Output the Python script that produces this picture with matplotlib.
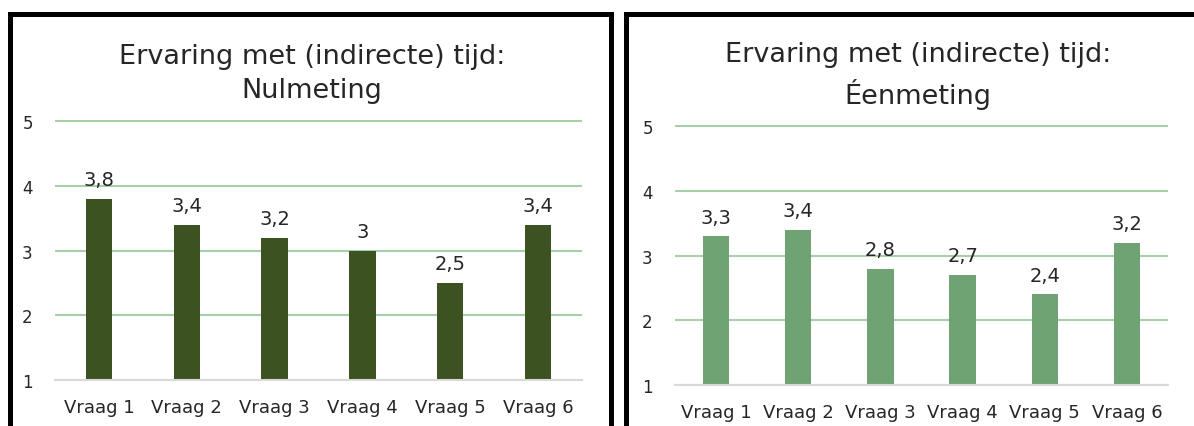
import matplotlib
matplotlib.use('Agg')
import matplotlib.pyplot as plt
from matplotlib.patches import Rectangle

plt.rcParams['font.family'] = ['DejaVu Sans']

vragen = ['Vraag 1', 'Vraag 2', 'Vraag 3', 'Vraag 4', 'Vraag 5', 'Vraag 6']
nulmeting = [3.8, 3.4, 3.2, 3.0, 2.5, 3.4]
eenmeting = [3.3, 3.4, 2.8, 2.7, 2.4, 3.2]
yticks = [1, 2, 3, 4, 5]

fig = plt.figure(figsize=(11.94, 4.27), dpi=100)

W, H = 1194, 427


def px(x0, y0, x1, y1):
    # pixel box -> figure fraction [left, bottom, width, height]
    return [x0 / W, 1 - y1 / H, (x1 - x0) / W, (y1 - y0) / H]


def label(v):
    s = ('%.1f' % v).replace('.', ',')
    if s.endswith(',0'):
        s = s[:-2]
    return s


def draw_panel(rect, values, color, width, title, title_x, title_y):
    ax = fig.add_axes(px(*rect))
    x = range(len(values))
    base = 1
    ax.bar(x, [v - base for v in values], bottom=base, width=width, color=color, zorder=3)
    for i, v in enumerate(values):
        ax.annotate(label(v), (i, v), xytext=(0, 7), textcoords='offset points',
                    ha='center', va='bottom', fontsize=14, color='#262626')
    ax.set_ylim(1, 5.02)
    ax.set_xlim(-0.5, len(values) - 0.5)
    ax.set_yticks(yticks)
    ax.set_xticks(list(x))
    ax.set_xticklabels(vragen)
    ax.grid(axis='y', color='#A8D0A8', linewidth=1.5, zorder=0)
    for s in ['top', 'right', 'left']:
        ax.spines[s].set_visible(False)
    ax.spines['bottom'].set_color('#D9D9D9')
    ax.spines['bottom'].set_linewidth(1.5)
    ax.spines['bottom'].set_zorder(4)
    ax.tick_params(axis='both', length=0, labelsize=12, colors='#262626')
    ax.tick_params(axis='x', labelsize=13, pad=13)
    ax.tick_params(axis='y', pad=16)
    fig.text(title_x / W, 1 - title_y / H, title, ha='center', va='center',
             fontsize=19.5, color='#262626', linespacing=1.4)
    return ax


draw_panel((55, 121, 582, 381), nulmeting, '#3C5220', 0.3,
           'Ervaring met (indirecte) tijd:\nNulmeting', 312, 74)
draw_panel((675, 126, 1168, 386), eenmeting, '#70A373', 0.32,
           'Ervaring met (indirecte) tijd:\nÉenmeting', 918, 76)

# black frames round both charts
lw = 3.6
fig.patches.append(Rectangle((9.5 / W, -0.05), 601 / W, 1 - 14.5 / H + 0.05,
                             transform=fig.transFigure, fill=False,
                             edgecolor='black', linewidth=lw))
fig.patches.append(Rectangle((625.5 / W, -0.05), 600 / W, 1 - 14.5 / H + 0.05,
                             transform=fig.transFigure, fill=False,
                             edgecolor='black', linewidth=lw))

fig.savefig('out.png', dpi=100)
